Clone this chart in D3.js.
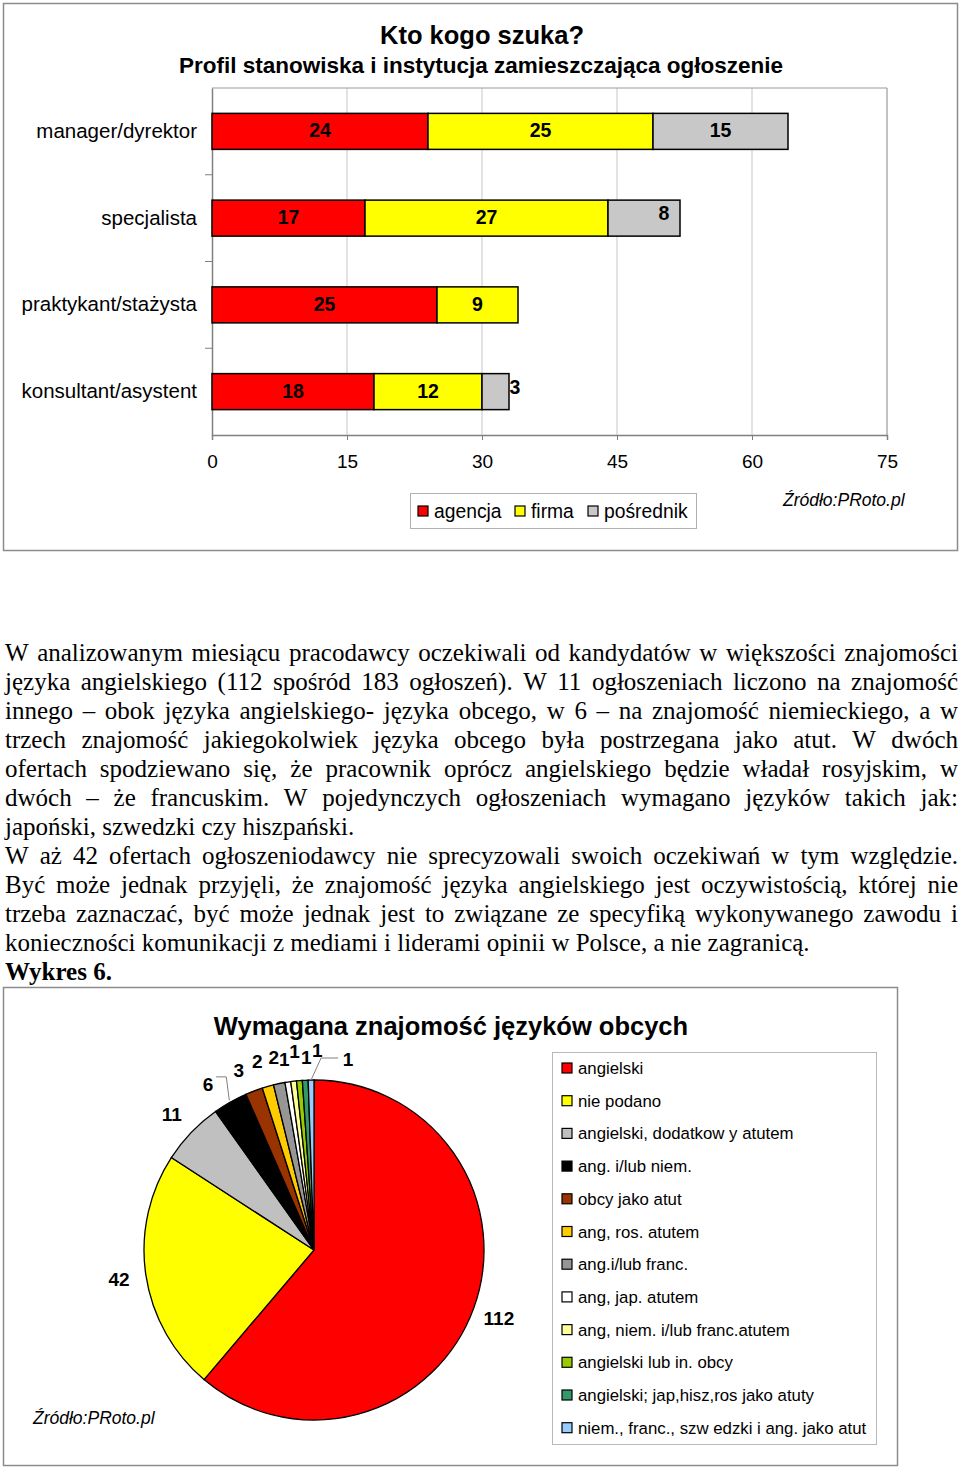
<!DOCTYPE html>
<html><head><meta charset="utf-8">
<script src="https://cdn.jsdelivr.net/npm/d3@7"></script>
<style>body{margin:0;background:#fff}svg{display:block}</style>
</head><body>
<svg id="c" width="960" height="1470"></svg>
<script>
// ---------- DATA ----------
const barTitle = "Kto kogo szuka?";
const barSubtitle = "Profil stanowiska i instytucja zamieszczająca ogłoszenie";
const categories = ["manager/dyrektor","specjalista","praktykant/stażysta","konsultant/asystent"];
const seriesNames = ["agencja","firma","pośrednik"];
const agencja = [24,17,25,18];
const firma = [25,27,9,12];
const posrednik = [15,8,0,3];
const xTicks = [0,15,30,45,60,75];
const barColors = ["#FF0000","#FFFF00","#C8C8C8"];
const source = "Źródło:PRoto.pl";

const paragraphLines = [
 "W analizowanym miesiącu pracodawcy oczekiwali od kandydatów w większości znajomości",
 "języka angielskiego (112 spośród 183 ogłoszeń). W 11 ogłoszeniach liczono na znajomość",
 "innego – obok języka angielskiego- języka obcego, w 6 – na znajomość niemieckiego, a w",
 "trzech znajomość jakiegokolwiek języka obcego była postrzegana jako atut. W dwóch",
 "ofertach spodziewano się, że pracownik oprócz angielskiego będzie władał rosyjskim, w",
 "dwóch – że francuskim. W pojedynczych ogłoszeniach wymagano języków takich jak:",
 "japoński, szwedzki czy hiszpański.",
 "W aż 42 ofertach ogłoszeniodawcy nie sprecyzowali swoich oczekiwań w tym względzie.",
 "Być może jednak przyjęli, że znajomość języka angielskiego jest oczywistością, której nie",
 "trzeba zaznaczać, być może jednak jest to związane ze specyfiką wykonywanego zawodu i",
 "konieczności komunikacji z mediami i liderami opinii w Polsce, a nie zagranicą."
];
const justified = [true,true,true,true,true,true,false,true,true,true,false];
const figureCaption = "Wykres 6.";

const pieTitle = "Wymagana znajomość języków obcych";
const pieLabels = ["angielski","nie podano","angielski, dodatkow y atutem","ang. i/lub niem.","obcy jako atut","ang, ros. atutem","ang.i/lub franc.","ang, jap. atutem","ang, niem. i/lub franc.atutem","angielski lub in. obcy","angielski; jap,hisz,ros jako atuty","niem., franc., szw edzki i ang. jako atut"];
const pieValues = [112,42,11,6,3,2,2,1,1,1,1,1];
const pieColors = ["#FF0000","#FFFF00","#C0C0C0","#000000","#993300","#FFCC00","#969696","#FFFFFF","#FFFF99","#99CC00","#339966","#99CCFF"];

// ---------- DRAW ----------
const svg = d3.select("#c");
const SANS = "'Liberation Sans', Arial, sans-serif";
const SERIF = "'Liberation Serif', 'Times New Roman', serif";

// Top chart frame
svg.append("rect").attr("x",3.5).attr("y",3.5).attr("width",954).attr("height",547)
  .attr("fill","#fff").attr("stroke","#8c8c8c").attr("stroke-width",1.5);
svg.append("text").attr("x",482).attr("y",44).attr("text-anchor","middle")
  .attr("font-family",SANS).attr("font-weight","bold").attr("font-size",25.5).text(barTitle);
svg.append("text").attr("x",481).attr("y",73).attr("text-anchor","middle")
  .attr("font-family",SANS).attr("font-weight","bold").attr("font-size",22.5).text(barSubtitle);

const x = d3.scaleLinear().domain([0,75]).range([212,887]);
const y = d3.scaleBand().domain(categories).range([88,435]).paddingInner(0.585).paddingOuter(0.2925);
const plotTop = 88, plotBottom = 435;

// gridlines
svg.append("g").selectAll("line").data(xTicks.slice(1)).join("line")
  .attr("x1",d=>x(d)).attr("x2",d=>x(d)).attr("y1",plotTop).attr("y2",plotBottom)
  .attr("stroke",d=>d===75?"#9a9a9a":"#d0d0d0").attr("stroke-width",1.2);
svg.append("line").attr("x1",212).attr("x2",x(75)).attr("y1",plotTop).attr("y2",plotTop)
  .attr("stroke","#9a9a9a").attr("stroke-width",1.2);

// x axis
const xAxis = d3.axisBottom(x).tickValues(xTicks).tickSize(5).tickPadding(15);
const gx = svg.append("g").attr("transform",`translate(0,${plotBottom})`).call(xAxis);
gx.select(".domain").attr("stroke","#808080").attr("stroke-width",1.5);
gx.selectAll(".tick line").attr("stroke","#808080");
gx.selectAll("text").attr("font-family",SANS).attr("font-size",19).attr("fill","#000");

// y axis
const yAxis = d3.axisLeft(y).tickSize(0).tickPadding(15);
const gy = svg.append("g").attr("transform","translate(212,0)").call(yAxis);
gy.select(".domain").attr("stroke","#808080").attr("stroke-width",1.5);
gy.selectAll("text").attr("font-family",SANS).attr("font-size",20.5).attr("fill","#000");
// category boundary ticks
svg.append("g").selectAll("line").data(d3.range(1,categories.length)).join("line")
  .attr("x1",205).attr("x2",212)
  .attr("y1",i=>plotTop+i*(plotBottom-plotTop)/categories.length)
  .attr("y2",i=>plotTop+i*(plotBottom-plotTop)/categories.length)
  .attr("stroke","#808080");

// stacked bars
const rows = categories.map((c,i)=>({cat:c,"agencja":agencja[i],"firma":firma[i],"pośrednik":posrednik[i]}));
const stack = d3.stack().keys(seriesNames)(rows);
stack.forEach((layer,si)=>{
  const g = svg.append("g");
  layer.forEach(seg=>{
    const v = seg[1]-seg[0];
    if(v<=0) return;
    const cat = seg.data.cat;
    const x0 = x(seg[0]), x1 = x(seg[1]);
    g.append("rect").attr("x",x0).attr("y",y(cat)).attr("width",x1-x0).attr("height",y.bandwidth())
      .attr("fill",barColors[si]).attr("stroke","#000").attr("stroke-width",1.5);
    const small = (x1-x0) < 80;
    let lx = (x0+x1)/2, ly = y(cat)+y.bandwidth()/2+6;
    if(small){ ly -= 4; lx = (x1-x0) < 40 ? x1+6 : x1-16; }
    g.append("text").attr("x",lx).attr("y",ly).attr("text-anchor","middle")
      .attr("font-family",SANS).attr("font-weight","bold").attr("font-size",19.5).text(v);
  });
});

// legend top
const lg = svg.append("g");
lg.append("rect").attr("x",410.5).attr("y",493.5).attr("width",286).attr("height",35)
  .attr("fill","#fff").attr("stroke","#b0b0b0");
const legX = [418,515,588];
seriesNames.forEach((n,i)=>{
  lg.append("rect").attr("x",legX[i]).attr("y",506).attr("width",10).attr("height",10)
    .attr("fill",barColors[i]).attr("stroke","#000").attr("stroke-width",1.2);
  lg.append("text").attr("x",legX[i]+16).attr("y",518).attr("font-family",SANS).attr("font-size",19.3).text(n);
});
svg.append("text").attr("x",783).attr("y",506).attr("font-family",SANS).attr("font-style","italic")
  .attr("font-size",17.5).text(source);

// paragraph
const pg = svg.append("g").attr("font-family",SERIF).attr("font-size",25).attr("fill","#000");
const left = 5, right = 958;
paragraphLines.forEach((line,i)=>{
  const by = 661 + i*29;
  if(!justified[i]){
    pg.append("text").attr("x",left).attr("y",by).text(line);
    return;
  }
  const words = line.split(" ");
  const nodes = words.map(w=>pg.append("text").attr("y",by).text(w));
  const widths = nodes.map(n=>n.node().getComputedTextLength());
  const total = d3.sum(widths);
  const gap = (right-left-total)/(words.length-1);
  let cx = left;
  nodes.forEach((n,k)=>{ n.attr("x",cx); cx += widths[k]+gap; });
});
pg.append("text").attr("x",left).attr("y",661+11*29).attr("font-weight","bold").text(figureCaption);

// Pie chart frame
svg.append("rect").attr("x",3.5).attr("y",987.5).attr("width",894).attr("height",478)
  .attr("fill","#fff").attr("stroke","#8c8c8c").attr("stroke-width",1.5);
svg.append("text").attr("x",451).attr("y",1035).attr("text-anchor","middle")
  .attr("font-family",SANS).attr("font-weight","bold").attr("font-size",25.5).text(pieTitle);

const cx = 314, cy = 1250, R = 170;
const pie = d3.pie().sort(null).value(d=>d)(pieValues);
const arc = d3.arc().innerRadius(0).outerRadius(R);
const pg2 = svg.append("g").attr("transform",`translate(${cx},${cy})`);
pg2.selectAll("path").data(pie).join("path").attr("d",arc)
  .attr("fill",(d,i)=>pieColors[i]).attr("stroke","#000").attr("stroke-width",1.3);

// pie labels
const polar = (a,r)=>[cx + r*Math.sin(a), cy - r*Math.cos(a)];
const lab = svg.append("g").attr("font-family",SANS).attr("font-weight","bold").attr("font-size",19);
const n = pie.length;
const deg = Math.PI/180;
pie.forEach((d,i)=>{
  let a = (d.startAngle+d.endAngle)/2;
  let r = 197;
  if(i===3) a -= 3*deg;
  if(i===4){ a -= 2*deg; r = 195; }
  if(i===5) a -= 1*deg;
  if(i>=7 && i<n-1){ r = (i%2===0)?200:193; a += (i-7)*1.3*deg; }
  let [px,py] = polar(a,r);
  if(i===n-1){
    const [ex,ey] = polar(a,R);
    px = ex+37; py = cy-191;
    svg.append("polyline").attr("points",`${ex},${ey} ${ex+10},${py-1} ${px-10},${py-1}`)
      .attr("fill","none").attr("stroke","#808080").attr("stroke-width",1);
  }
  if(i===3){
    const [ex,ey] = polar((d.startAngle+d.endAngle)/2,R+2);
    svg.append("polyline").attr("points",`${px+8},${py-7} ${ex-3},${py-7} ${ex},${ey}`)
      .attr("fill","none").attr("stroke","#808080").attr("stroke-width",1);
  }
  lab.append("text").attr("x",px).attr("y",py+7).attr("text-anchor","middle").text(d.data);
});

// pie legend
const pl = svg.append("g");
pl.append("rect").attr("x",552.5).attr("y",1052.5).attr("width",324).attr("height",392)
  .attr("fill","#fff").attr("stroke","#b8b8b8");
pieLabels.forEach((t,i)=>{
  const yy = 1068 + i*32.7;
  pl.append("rect").attr("x",562).attr("y",yy-5).attr("width",10).attr("height",10)
    .attr("fill",pieColors[i]).attr("stroke","#000").attr("stroke-width",1.2);
  pl.append("text").attr("x",578).attr("y",yy+6).attr("font-family",SANS).attr("font-size",16.8).text(t);
});
svg.append("text").attr("x",33).attr("y",1424).attr("font-family",SANS).attr("font-style","italic")
  .attr("font-size",17.5).text(source);
</script>
</body></html>
